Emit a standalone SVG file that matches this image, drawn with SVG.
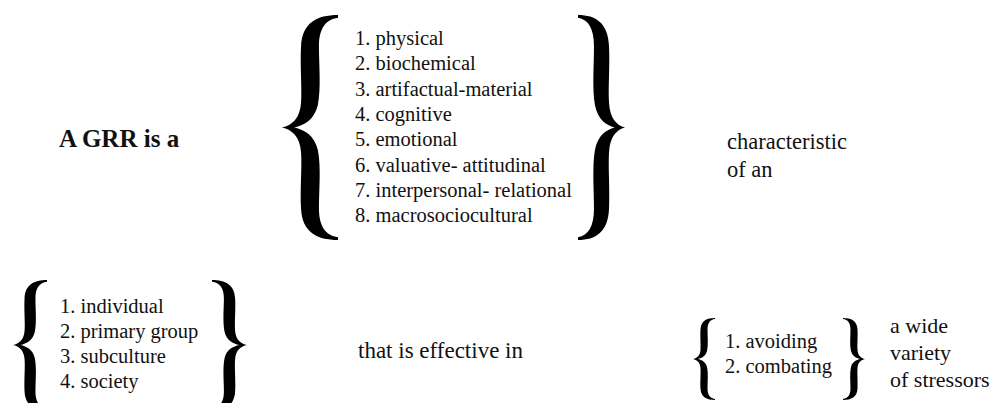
<svg xmlns="http://www.w3.org/2000/svg" width="994" height="403" viewBox="0 0 994 403">
<style>
  text { font-family: "Liberation Serif", "Times New Roman", serif; fill: #111; }
  .item { font-size: 20.5px; }
  .prose { font-size: 22.5px; }
  .bold { font-size: 25px; font-weight: bold; }
  .brace { fill: #000; }
</style>
<defs>
  <path id="brace" d="M1,-1 C0.62,-1 0.36,-0.93 0.34,-0.72 C0.32,-0.55 0.36,-0.35 0.34,-0.22 C0.32,-0.08 0.18,-0.02 0,0 C0.18,0.02 0.32,0.08 0.34,0.22 C0.36,0.35 0.32,0.55 0.34,0.72 C0.36,0.93 0.62,1 1,1 L1,0.975 C0.78,0.96 0.66,0.88 0.66,0.72 C0.66,0.55 0.7,0.35 0.64,0.2 C0.58,0.07 0.4,0.02 0.22,0 C0.4,-0.02 0.58,-0.07 0.64,-0.2 C0.7,-0.35 0.66,-0.55 0.66,-0.72 C0.66,-0.88 0.78,-0.96 1,-0.975 Z"/>
</defs>
<rect width="994" height="403" fill="#fff"/>

<g id="grr-label">
  <text class="bold" x="59" y="147">A GRR is a</text>
</g>

<g id="resource-types">
  <use class="brace" href="#brace" transform="translate(282,127.5) scale(56,112.5)"/>
  <use class="brace" href="#brace" transform="translate(625,127.5) scale(-47,112.5)"/>
  <text class="item" x="355" y="45">1. physical</text>
  <text class="item" x="355" y="70.3">2. biochemical</text>
  <text class="item" x="355" y="95.6">3. artifactual-material</text>
  <text class="item" x="355" y="120.9">4. cognitive</text>
  <text class="item" x="355" y="146.2">5. emotional</text>
  <text class="item" x="355" y="171.5">6. valuative- attitudinal</text>
  <text class="item" x="355" y="196.8">7. interpersonal- relational</text>
  <text class="item" x="355" y="222.1">8. macrosociocultural</text>
</g>

<g id="characteristic-label">
  <text class="prose" x="727" y="149">characteristic</text>
  <text class="prose" x="727" y="177">of an</text>
</g>

<g id="levels">
  <use class="brace" href="#brace" transform="translate(13,345) scale(34,65)"/>
  <use class="brace" href="#brace" transform="translate(247,345) scale(-35,65)"/>
  <text class="item" x="60" y="313">1. individual</text>
  <text class="item" x="60" y="338">2. primary group</text>
  <text class="item" x="60" y="363">3. subculture</text>
  <text class="item" x="60" y="388">4. society</text>
</g>

<g id="effective-label">
  <text class="prose" x="358" y="358" style="font-size:23px">that is effective in</text>
</g>

<g id="actions">
  <use class="brace" href="#brace" transform="translate(693,359) scale(22,41)"/>
  <use class="brace" href="#brace" transform="translate(865,359) scale(-22,41)"/>
  <text class="item" x="725" y="348">1. avoiding</text>
  <text class="item" x="725" y="373">2. combating</text>
</g>

<g id="stressors-label">
  <text class="prose" x="890" y="333" style="font-size:22px">a wide</text>
  <text class="prose" x="890" y="360" style="font-size:22px">variety</text>
  <text class="prose" x="890" y="387" style="font-size:22px">of stressors</text>
</g>

<g id="connectors"/>
</svg>
